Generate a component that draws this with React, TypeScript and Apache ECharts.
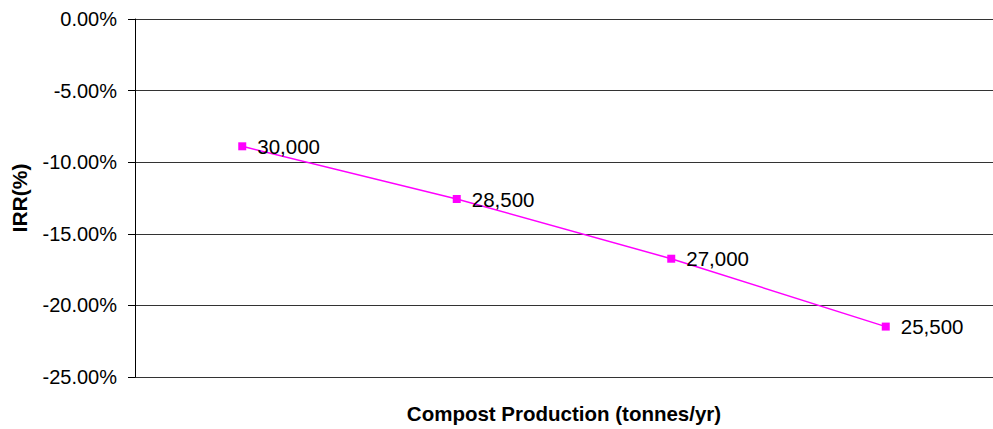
import React, { useEffect, useRef } from "react";
import * as echarts from "echarts";

const categories: string[] = ["30,000", "28,500", "27,000", "25,500"];
const irrValues: number[] = [-8.89, -12.57, -16.74, -21.48];
const yTicks = { min: -25, max: 0, interval: 5 };
const xTitle = "Compost Production (tonnes/yr)";
const yTitle = "IRR(%)";

const FONT = "'Liberation Sans', Arial, sans-serif";

export default function App() {
  const ref = useRef<HTMLDivElement>(null);
  useEffect(() => {
    if (!ref.current) return;
    const chart = echarts.init(ref.current, null, { renderer: "svg" });
    chart.setOption({
      animation: false,
      backgroundColor: "#ffffff",
      grid: { left: 135, top: 19, right: -10, height: 360, containLabel: false },
      xAxis: {
        type: "category",
        data: categories,
        boundaryGap: true,
        axisLine: { show: false },
        axisTick: { show: false },
        axisLabel: { show: false },
        splitLine: { show: false },
        name: xTitle,
        nameLocation: "middle",
        nameGap: 26,
        nameTextStyle: { fontFamily: FONT, fontSize: 20.5, fontWeight: "bold", color: "#000" },
      },
      yAxis: {
        type: "value",
        min: yTicks.min,
        max: yTicks.max,
        interval: yTicks.interval,
        axisLine: { show: true, lineStyle: { color: "#000", width: 1 } },
        axisTick: { show: true, length: 7, lineStyle: { color: "#000" } },
        axisLabel: {
          margin: 18,
          fontFamily: FONT,
          fontSize: 20,
          color: "#000",
          formatter: (v: number) => v.toFixed(2) + "%",
        },
        splitLine: { show: true, lineStyle: { color: "#333", width: 1 } },
        name: yTitle,
        nameLocation: "middle",
        nameRotate: 90,
        nameGap: 105,
        nameTextStyle: { fontFamily: FONT, fontSize: 21, fontWeight: "bold", color: "#000" },
      },
      series: [
        {
          type: "line",
          data: irrValues,
          symbol: "rect",
          symbolSize: 8,
          itemStyle: { color: "#FF00FF" },
          lineStyle: { color: "#FF00FF", width: 1.5 },
          label: {
            show: true,
            position: "right",
            distance: 11,
            formatter: "{b}",
            fontFamily: FONT,
            fontSize: 20.5,
            color: "#000",
          },
        },
      ],
    });
    return () => chart.dispose();
  }, []);
  return (
    <div
      ref={ref}
      style={{ position: "fixed", left: 0, top: 0, width: 993, height: 429, background: "#fff" }}
    />
  );
}
